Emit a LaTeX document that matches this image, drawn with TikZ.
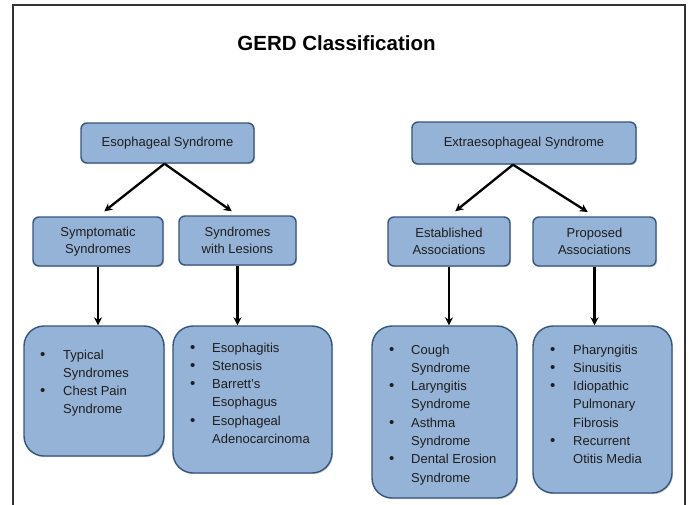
\documentclass[tikz,border=0pt]{standalone}
\usepackage{fontspec}
\setmainfont{Liberation Sans}
\usetikzlibrary{arrows.meta,calc,shadows}
\definecolor{boxfill}{HTML}{95B3D7}
\definecolor{boxline}{HTML}{34557E}
\definecolor{txt}{HTML}{1E1E1E}
\newcommand{\bitem}[1]{{\fontsize{15}{18.3}\selectfont\textbullet} & #1\\}
\newcommand{\contline}[1]{& #1\\}
\begin{document}
\begin{tikzpicture}[x=1pt,y=-1pt,
  topbox/.style={draw=boxline, line width=1.4pt, fill=boxfill, rounded corners=6pt,
     inner sep=2pt, align=center, text=txt, font=\fontsize{13}{17.5}\selectfont,
     drop shadow={shadow xshift=1pt, shadow yshift=-1.2pt, opacity=0.35}},
  listbox/.style={draw=boxline, line width=1.4pt, fill=boxfill, rounded corners=20pt,
     drop shadow={shadow xshift=1pt, shadow yshift=-1.2pt, opacity=0.35}},
  listtext/.style={anchor=north west, inner sep=0pt, text=txt, font=\fontsize{13}{18.3}\selectfont},
  arr/.style={-{Stealth[length=8pt,width=8pt]}, line width=2.3pt, black}]
\useasboundingbox (0,0) rectangle (690,504);
\draw[line width=1.4pt, draw=black!80] (13,540) -- (13,5) -- (685,5) -- (685,540);
\node[font=\bfseries\fontsize{20.5}{24}\selectfont] (title) at (336.5,43) {GERD Classification};

\node[topbox, minimum width=173pt, minimum height=40pt] (eso) at (167.5,143) {Esophageal Syndrome};
\node[topbox, minimum width=224pt, minimum height=42pt] (ext) at (524,143) {Extraesophageal Syndrome};

\node[topbox, minimum width=130pt, minimum height=49pt] (sym) at (98,241.5) {Symptomatic\\Syndromes};
\node[topbox, minimum width=117pt, minimum height=49pt] (wle) at (237.5,240.5) {Syndromes\\with Lesions};
\node[topbox, minimum width=122pt, minimum height=49pt] (est) at (449,241.5) {Established\\Associations};
\node[topbox, minimum width=123pt, minimum height=49pt] (pro) at (594.5,241.5) {Proposed\\Associations};

\node[listbox, minimum width=140pt, minimum height=130pt] (typ) at (94,391) {};
\node[listbox, minimum width=159pt, minimum height=147pt] (les) at (252.5,399.5) {};
\node[listbox, minimum width=145pt, minimum height=172pt] (cou) at (444.5,412) {};
\node[listbox, minimum width=139pt, minimum height=167pt] (pha) at (602.5,409.5) {};

\node[listtext] (typl) at (40,346) {\begin{tabular}{@{}p{23pt}@{}l@{}}
\bitem{Typical}\contline{Syndromes}\bitem{Chest Pain}\contline{Syndrome}\end{tabular}};
\node[listtext] (lesl) at (190,339) {\begin{tabular}{@{}p{22pt}@{}l@{}}
\bitem{Esophagitis}\bitem{Stenosis}\bitem{Barrett's}\contline{Esophagus}\bitem{Esophageal}\contline{Adenocarcinoma}\end{tabular}};
\node[listtext] (coul) at (389,341) {\begin{tabular}{@{}p{22pt}@{}l@{}}
\bitem{Cough}\contline{Syndrome}\bitem{Laryngitis}\contline{Syndrome}\bitem{Asthma}\contline{Syndrome}\bitem{Dental Erosion}\contline{Syndrome}\end{tabular}};
\node[listtext] (phal) at (550,341) {\begin{tabular}{@{}p{23pt}@{}l@{}}
\bitem{Pharyngitis}\bitem{Sinusitis}\bitem{Idiopathic}\contline{Pulmonary}\contline{Fibrosis}\bitem{Recurrent}\contline{Otitis Media}\end{tabular}};

\coordinate (esoapex) at ($(eso.south)+(-3,0)$);
\coordinate (extapex) at ($(ext.south)+(-11,0)$);
\draw[arr, shorten >=8pt] (esoapex) -- (sym.north);
\draw[arr, shorten >=7pt] (esoapex) -- (wle.north);
\draw[arr, shorten >=8pt] (extapex) -- (est.north);
\draw[arr, shorten >=8pt] (extapex) -- (pro.north);

\draw[arr] (sym.south) -- (sym.south |- typ.north);
\draw[arr] (wle.south) -- (wle.south |- les.north);
\draw[arr] (est.south) -- (est.south |- cou.north);
\draw[arr] (pro.south) -- (pro.south |- pha.north);
\end{tikzpicture}
\end{document}
